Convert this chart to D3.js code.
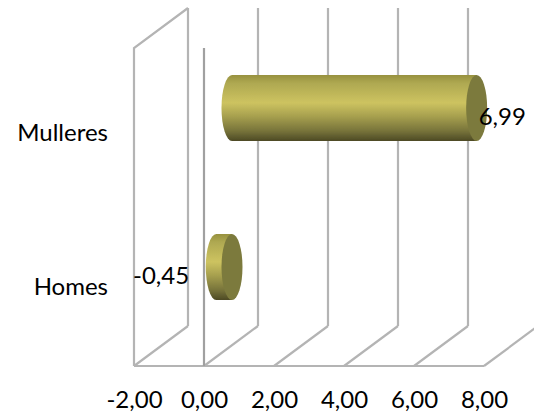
<!DOCTYPE html>
<html>
<head>
<meta charset="utf-8">
<script src="https://cdn.jsdelivr.net/npm/d3@7"></script>
<style>
html,body{margin:0;padding:0;background:#fff;overflow:hidden}
svg{display:block}
text{font-family:Lato,"Open Sans",sans-serif;font-size:24px;fill:#000}
</style>
</head>
<body>
<svg id="chart" width="534" height="417"></svg>
<script>
const categories = ["Homes", "Mulleres"];
const values = [-0.45, 6.99];
const xTicks = [-2, 0, 2, 4, 6, 8];

const svg = d3.select("#chart");
const fmt = d3.formatLocale({decimal: ",", thousands: ".", grouping: [3], currency: ["", ""], minus: "-"}).format(".2f");

const x = d3.scaleLinear().domain([-2, 8]).range([134, 484]);
const yBar = d3.scalePoint().domain(categories).range([267, 108]);
const yLabel = d3.scalePoint().domain(categories).range([287, 133]);

const depthX = 54, depthY = -40;
const floorY = 366, topBackY = 8, frontTopY = 48;
const barDepth = 28;
const rx = 10.5, ry = 33;

const defs = svg.append("defs");
const grad = defs.append("linearGradient").attr("id", "cyl").attr("x1", 0).attr("x2", 0).attr("y1", 0).attr("y2", 1);
[[0, "#97913f"], [0.12, "#aea851"], [0.42, "#cdc360"], [0.62, "#a8a14f"], [0.85, "#77733a"], [1, "#4d4a25"]]
  .forEach(([o, c]) => grad.append("stop").attr("offset", o).attr("stop-color", c));
defs.append("filter").attr("id", "soft").append("feGaussianBlur").attr("stdDeviation", 0.6);

const gridColor = "#b4b4b4";
const grid = svg.append("g").attr("fill", "none").attr("stroke", gridColor).attr("stroke-width", 2.2).attr("filter", "url(#soft)");

// floor front edge and oblique floor lines
grid.append("line").attr("x1", x(-2)).attr("x2", x(8)).attr("y1", floorY).attr("y2", floorY);
grid.selectAll("line.oblique").data(xTicks).join("line").attr("class", "oblique")
  .attr("x1", d => x(d)).attr("y1", floorY)
  .attr("x2", d => x(d) + depthX).attr("y2", floorY + depthY);

// back wall verticals (the 8,00 wall is off the visible plot)
grid.selectAll("line.back").data(xTicks.slice(0, -1)).join("line").attr("class", "back")
  .attr("x1", d => x(d) + depthX).attr("x2", d => x(d) + depthX)
  .attr("y1", floorY + depthY).attr("y2", topBackY);

// side wall at the axis minimum and the zero plane
grid.append("path")
  .attr("d", `M${x(-2)},${floorY}V${frontTopY}L${x(-2) + depthX},${topBackY}`);
grid.append("line").attr("x1", x(0)).attr("x2", x(0)).attr("y1", floorY).attr("y2", frontTopY).attr("stroke", "#a0a0a0");

// cylinders
const cx = v => x(v) + barDepth;
const bars = svg.append("g").attr("filter", "url(#soft)");
const rows = categories.map((c, i) => ({c, v: values[i]}));
rows.forEach(r => {
  const lo = Math.min(0, r.v), hi = Math.max(0, r.v), cy = yBar(r.c);
  bars.append("path").attr("fill", "url(#cyl)")
    .attr("d", `M${cx(hi)},${cy - ry}H${cx(lo)}A${rx},${ry} 0 0 0 ${cx(lo)},${cy + ry}H${cx(hi)}Z`);
  bars.append("ellipse").attr("cx", cx(hi)).attr("cy", cy).attr("rx", rx).attr("ry", ry).attr("fill", "#7c7a3d");
});

// axes
const xAxis = svg.append("g").attr("transform", "translate(0,388)")
  .call(d3.axisBottom(x).tickValues(xTicks).tickSize(0).tickFormat(fmt));
const yAxis = svg.append("g").attr("transform", "translate(108,0)")
  .call(d3.axisLeft(yLabel).tickSize(0).tickPadding(0));
[xAxis, yAxis].forEach(a => {
  a.select(".domain").remove();
  a.attr("font-family", null).attr("font-size", null);
});

// data labels
svg.append("g").selectAll("text").data(rows).join("text")
  .attr("x", d => d.v < 0 ? 133 : cx(d.v) + 2)
  .attr("y", d => yBar(d.c) + 9)
  .attr("dy", "0.32em")
  .text(d => fmt(d.v));
</script>
</body>
</html>
